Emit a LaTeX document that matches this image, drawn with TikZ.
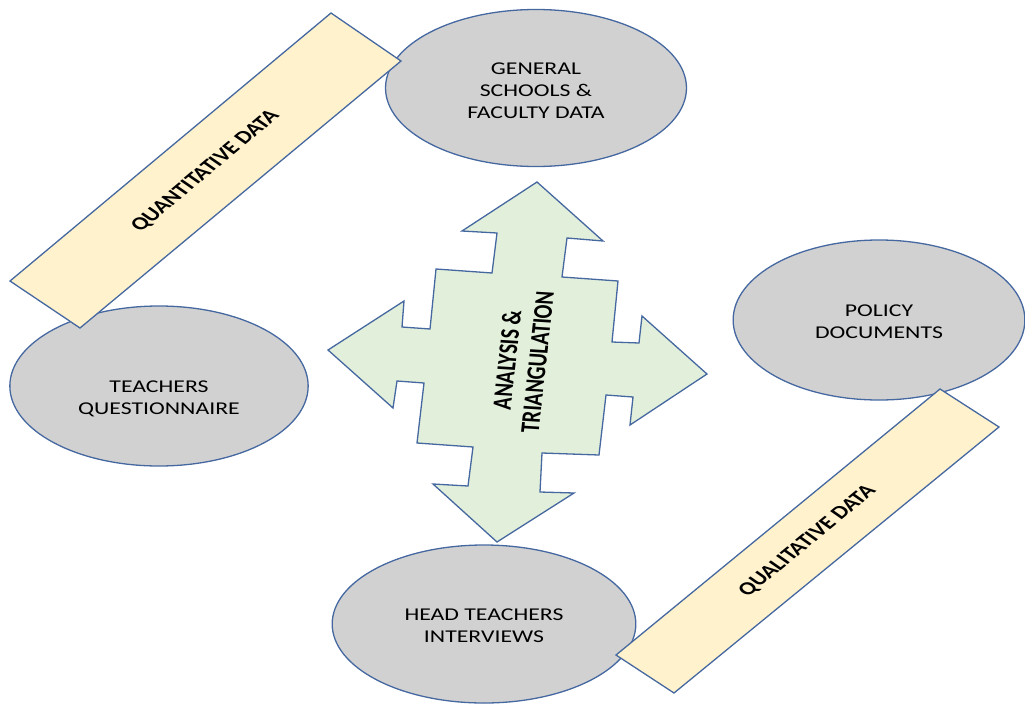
\documentclass[tikz,border=0pt]{standalone}
\usepackage{fontspec}
\setmainfont{Carlito}
\usetikzlibrary{shapes.geometric}

\definecolor{edgeblue}{RGB}{70,104,160}
\definecolor{ovalgray}{RGB}{209,209,209}
\definecolor{hubgreen}{RGB}{226,239,218}
\definecolor{bandcream}{RGB}{255,242,204}

\begin{document}
\begin{tikzpicture}[x=1pt, y=-1pt,
    squash/.style = {xscale=1.32},
    source/.style = {ellipse, squash, draw=edgeblue, fill=ovalgray, line width=1.3pt,
                     minimum height=157pt, inner sep=0pt, align=center, text depth=0pt,
                     font=\fontsize{18}{22}\selectfont},
    band/.style = {draw=edgeblue, fill=bandcream, line width=1.3pt},
    bandlabel/.style = {squash, font=\bfseries\fontsize{18.5}{22}\selectfont},
    hub/.style = {draw=edgeblue, fill=hubgreen, line width=1.3pt, line join=miter},
    hublabel/.style = {squash, align=center, font=\bfseries\fontsize{20.5}{23}\selectfont}]
    \useasboundingbox (0,0) rectangle (1025,704);

    % data sources (a taller text box pushes the text a bit below the centre)
    \node[source, minimum width=228pt, text height=61.6pt] (general) at (536,88) {GENERAL\\SCHOOLS \&\\FACULTY DATA};
    \node[source, minimum width=226pt, minimum height=160pt, text height=56.6pt] (questionnaire) at (159,386) {TEACHERS\\QUESTIONNAIRE};
    \node[source, minimum width=221pt, minimum height=160pt, text height=36.6pt] (policy) at (879,320) {POLICY\\DOCUMENTS};
    \node[source, minimum width=230pt, minimum height=158pt, text height=37.6pt] (interviews) at (484,624) {HEAD TEACHERS\\INTERVIEWS};

    % quantitative band
    \draw[band] (10,281) -- (331,13) -- (401,61) -- (80,328) -- cycle;
    \node[bandlabel, rotate=47.8] (quant) at (205.5,171) {QUANTITATIVE DATA};

    % qualitative band
    \draw[band] (616,655) -- (940,389) -- (999,427) -- (674,693) -- cycle;
    \node[bandlabel, rotate=47.3] (qual) at (807.5,541) {QUALITATIVE DATA};

    % four way arrow in the middle
    \draw[hub] (537,182) -- (603,241) -- (567,238) -- (562,277) -- (618,281)
        -- (612,342) -- (639,343) -- (642,316) -- (707,374) -- (630,425) -- (633,397)
        -- (606,395) -- (599,455) -- (542,453) -- (540,492) -- (574,493) -- (497,542)
        -- (433,484) -- (468,486) -- (473,447) -- (417,443) -- (424,383) -- (397,381)
        -- (393,408) -- (328,350) -- (404,301) -- (402,327) -- (430,329) -- (436,269)
        -- (492,273) -- (497,233) -- (462,231) -- cycle;
    \node[hublabel, rotate=85.2] (analysis) at (522,361) {ANALYSIS \&\\TRIANGULATION};

\end{tikzpicture}
\end{document}
